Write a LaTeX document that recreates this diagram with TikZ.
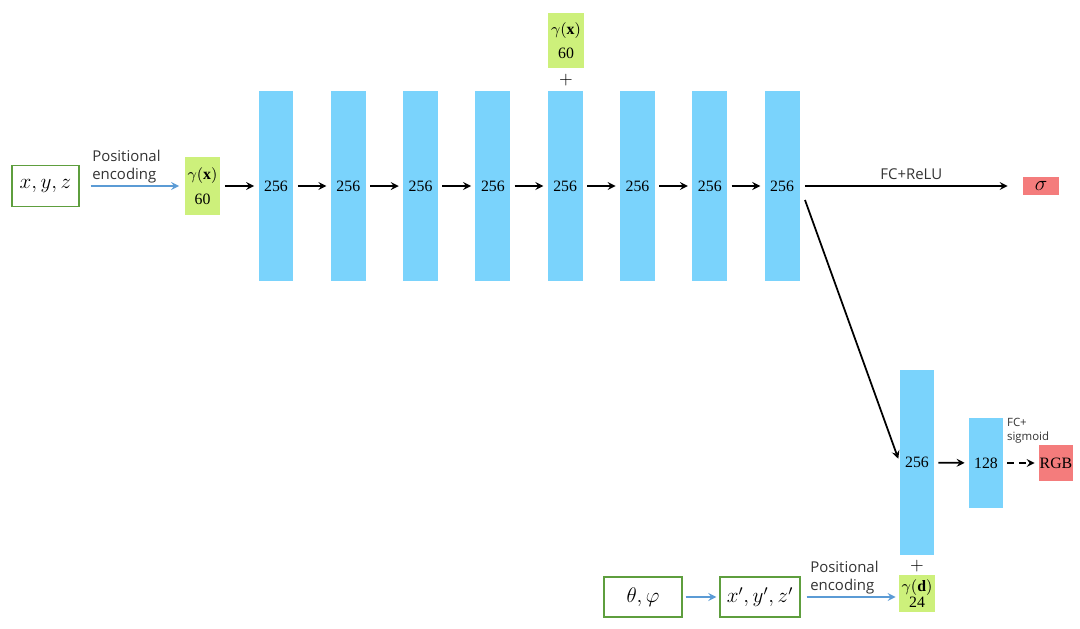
\documentclass[tikz,border=0pt]{standalone}
\usepackage{fontspec}
\setmainfont{Liberation Serif}
\newfontfamily\capfont{Open Sans}
\usetikzlibrary{positioning}
\definecolor{barblue}{HTML}{7AD3FC}
\definecolor{encgreen}{HTML}{CDF07B}
\definecolor{outred}{HTML}{F47C7C}
\definecolor{boxgreen}{HTML}{5E9E3E}
\definecolor{peblue}{HTML}{5B9BD5}
\tikzset{
	layer/.style={fill=barblue, minimum width=0.7cm, minimum height=3.8cm, inner sep=0pt, font=\fontsize{9}{10}\selectfont},
	enc/.style={fill=encgreen, minimum width=0.72cm, inner sep=0pt, align=center, font=\fontsize{9}{14}\selectfont},
	inbox/.style={draw=boxgreen, line width=0.8pt, minimum height=0.82cm, inner sep=0pt, font=\fontsize{12}{12}\selectfont},
	outbox/.style={fill=outred, inner sep=0pt},
	fwd/.style={->, >=stealth, line width=1pt, shorten <=0.08cm, shorten >=0.08cm},
	pe/.style={->, >=stealth, peblue, line width=1pt},
	caption/.style={font=\capfont\fontsize{8.5}{10.5}\selectfont, text=black!80, align=left, inner sep=1pt}
}
\begin{document}
\begin{tikzpicture}[x=0.02cm, y=-0.02cm]
		\useasboundingbox (0,0) rectangle (1080,629);
		% input and first encoding
		\node[inbox, minimum width=1.34cm] (xyz) at (45.5,186) {$x,y,z$};
		\node[enc, minimum height=1.16cm] (encx) at (202.5,186) {$\gamma(\mathbf{x})$\\60};
		\draw[pe, shorten <=0.22cm, shorten >=0.1cm] (xyz) -- node[caption, pos=0, anchor=south west, xshift=0.2cm] {Positional\\encoding} (encx);
		% eight layers of 256
		\foreach \i [evaluate=\i as \x using 276+72.3*(\i-1)] in {1,...,8}
			\node[layer] (l\i) at (\x,186) {256};
		\draw[fwd] (encx) -- (l1);
		\foreach \i [remember=\i as \j (initially 1)] in {2,...,8}
			\draw[fwd] (l\j) -- (l\i);
		% skip input on layer 5
		\node[enc, minimum height=1.1cm] (encskip) at (566,40.5) {$\gamma(\mathbf{x})$\\60};
		\node (plustop) at (566,80) {$+$};
		% density
		\node[outbox, minimum width=0.72cm, minimum height=0.36cm] (sigma) at (1041,186) {\fontsize{13}{13}\selectfont$\sigma$};
		\draw[fwd, shorten <=0.1cm, shorten >=0.3cm] (l8) -- node[caption, above=2pt] {FC+ReLU} (sigma);
		% colour branch
		\node[layer, minimum width=0.68cm, minimum height=3.7cm] (l9) at (917,462.5) {256};
		\node[layer, minimum width=0.68cm, minimum height=1.8cm] (l10) at (986,463) {128};
		\node[outbox, minimum width=0.68cm, minimum height=0.72cm, font=\fontsize{9}{9}\selectfont] (rgb) at (1056,463) {RGB};
		\coordinate (split) at (805,200);
		\draw[fwd, shorten <=0pt] (split) -- (l9.west);
		\draw[fwd] (l9) -- (l10);
		\draw[fwd, dashed, dash pattern=on 4pt off 2.5pt] (l10) -- (rgb);
		\node[caption, anchor=north west, font=\capfont\fontsize{6.5}{8}\selectfont] (fcsig) at (1005,416) {FC+\\sigmoid};
		% view direction
		\node (plusbot) at (917,566) {$+$};
		\node[enc, minimum height=0.74cm, font=\fontsize{9}{9.5}\selectfont] (encd) at (917,593.5) {$\gamma(\mathbf{d})$\\24};
		\node[inbox, minimum width=1.56cm, minimum height=0.8cm] (dir) at (643,597) {$\theta,\varphi$};
		\node[inbox, minimum width=1.6cm, minimum height=0.8cm] (xyzp) at (760,597) {$x',y',z'$};
		\draw[pe, shorten <=0.06cm, shorten >=0.06cm] (dir) -- (xyzp);
		\draw[pe, shorten <=0.12cm, shorten >=0.06cm] (xyzp.east) -- node[caption, pos=0, anchor=south west, xshift=0.14cm] {Positional\\encoding} (xyzp.east -| encd.west);
	\end{tikzpicture}
\end{document}
